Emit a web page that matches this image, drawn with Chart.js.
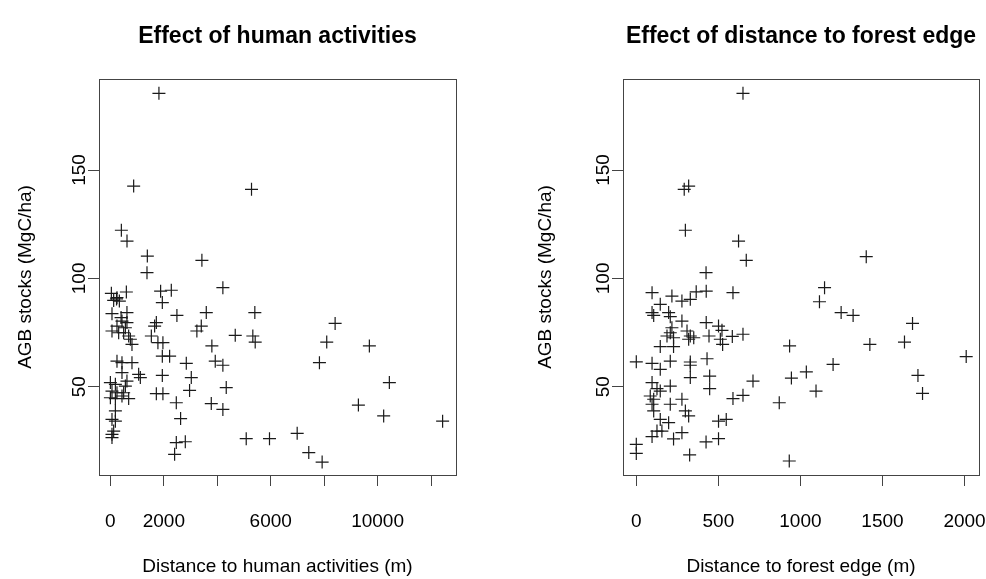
<!DOCTYPE html>
<html><head><meta charset="utf-8">
<script src="https://cdn.jsdelivr.net/npm/chart.js@4.4.1/dist/chart.umd.min.js"></script>
<style>
html,body{margin:0;padding:0;background:#fff;width:986px;height:579px;overflow:hidden;position:relative}
canvas{position:absolute;top:0}
#c1{left:0}
#c2{left:523px}
</style></head><body>
<canvas id="c1" width="556" height="579"></canvas>
<canvas id="c2" width="555" height="579"></canvas>
<script>
// ---- Data ----
const leftTitle = "Effect of human activities";
const leftXTitle = "Distance to human activities (m)";
const rightTitle = "Effect of distance to forest edge";
const rightXTitle = "Distance to forest edge (m)";
const yTitle = "AGB stocks (MgC/ha)";

const leftX = [1817, 871, 5282, 411, 622, 1383, 1370, 3425, 4210, 1880,
  2280, 1944, 2490, 3589, 5406, 1720, 1656, 3402, 3237, 1533,
  1779, 1966, 3798, 4673, 5331, 5420, 1944, 2217, 2841, 3925,
  4210, 3028, 1944, 4336, 2964, 1720, 1966, 2467, 3776, 4210,
  2628, 2467, 2804, 2404, 5084, 5955, 8411, 8097, 7824, 9693,
  10441, 9282, 10228, 12434, 6991, 7425, 7925,
  37, 598, 247, 123, 336, 230, 60, 620, 434, 247,
  561, 60, 310, 684, 497, 748, 808, 400, 620, 247,
  434, 808, 434, 1058, 1121, 0, 187, 620, 561, 60,
  247, 497, 434, 0, 187, 684, 187, 60, 187, 123, 60, 60];
const leftY = [185.4, 142.6, 141.1, 122.2, 117.2, 110.3, 102.6, 108.3, 95.7, 94.1,
  94.5, 88.8, 82.9, 84.2, 84.2, 79.6, 78, 78, 75.7, 73.4,
  70.3, 70.3, 68.8, 73.7, 73.4, 70.6, 64.1, 64.1, 60.8, 61.8,
  59.9, 54.2, 55.2, 49.6, 48.3, 46.8, 46.8, 42.6, 42.2, 39.5,
  35.3, 24.2, 24.6, 18.8, 26.0, 26.0, 79.2, 70.6, 61.1, 68.8,
  51.9, 41.5, 36.5, 34.1, 28.5, 19.6, 15.2,
  93.1, 93.7, 91.1, 89.8, 89.5, 90.5, 83.7, 84.2, 80.3, 78,
  77.2, 75.7, 74.9, 73.4, 74.9, 71.9, 69.5, 81.9, 79.6, 61.8,
  61.1, 61.1, 56.5, 55.7, 54.2, 51.9, 51.1, 52.6, 50.3, 48,
  47.2, 47.2, 45.7, 44.9, 44.5, 44.5, 38.8, 34.9, 34.1, 29.5, 28, 26.5];

const rightX = [650, 319, 292, 299, 623, 670, 425, 426, 365, 589,
  96, 217, 278, 329, 146, 96, 106, 197, 207, 278,
  217, 207, 187, 227, 309, 329, 319, 350, 426, 443,
  501, 522, 512, 526, 585, 650, 146, 227, 0, 96,
  146, 207, 329, 329, 431, 329, 447, 447, 96, 126,
  146, 207, 85, 106, 96, 207, 278, 299, 319, 106,
  146, 197, 126, 96, 156, 227, 278, 501, 548, 425,
  501, 0, 0, 325, 589, 650, 711, 871, 934, 945,
  932, 1401, 1147, 1116, 1248, 1321, 1683, 1634, 1423, 1199,
  1036, 1095, 2010, 1716, 1744];
const rightY = [185.4, 142.6, 141.1, 122.2, 117.2, 108.3, 102.6, 94.1, 93.8, 93.4,
  93.4, 91.8, 89.5, 90.3, 88, 84.2, 82.9, 84.2, 82.3, 80.3,
  77.2, 74.9, 73.4, 72.6, 75.7, 73.4, 71.9, 72.6, 79.6, 73.4,
  78, 76, 71.9, 69.5, 73.2, 74.2, 68.5, 68.5, 61.5, 60.8,
  58, 61.8, 61.4, 59.9, 62.9, 54.2, 54.9, 49.1, 51.9, 49.1,
  48, 50.3, 45.7, 44.2, 41.9, 41.9, 44.2, 38.8, 36.5, 38.8,
  34.9, 33.4, 29.5, 27, 29.5, 25.9, 28.8, 34.1, 34.9, 24.5,
  26, 23.4, 19.2, 18.5, 44.5, 46, 52.6, 42.6, 68.8, 54,
  15.7, 110, 95.7, 89.2, 84.2, 82.9, 79.2, 70.6, 69.5, 60.3,
  56.8, 48, 63.9, 55.2, 46.9];

const yTicks = [50, 100, 150];
const yTickLabels = ["50", "100", "150"];
const leftXTicks = [0, 2000, 4000, 6000, 8000, 10000, 12000];
const leftXTickLabels = ["0", "2000", "", "6000", "", "10000", ""];
const rightXTicks = [0, 500, 1000, 1500, 2000];
const rightXTickLabels = ["0", "500", "1000", "1500", "2000"];

// ---- Rendering ----
const FONT = '"Liberation Sans", Arial, sans-serif';
const INK = '#1a1a1a';

const boxPlugin = {
  id: 'rbox',
  afterDatasetsDraw(chart) {
    const {ctx, chartArea: a} = chart;
    ctx.save();
    ctx.strokeStyle = '#444';
    ctx.lineWidth = 1;
    ctx.strokeRect(Math.round(a.left) + 0.5, Math.round(a.top) + 0.5, Math.round(a.width), Math.round(a.height));
    ctx.restore();
  }
};

function panel(id, xs, ys, cfg) {
  const pts = xs.map((x, i) => ({x: x, y: ys[i]}));
  return new Chart(document.getElementById(id), {
    type: 'scatter',
    data: {datasets: [{
      data: pts,
      pointStyle: 'cross',
      pointRadius: 6.5,
      pointHoverRadius: 6.5,
      borderWidth: 1.2,
      borderColor: INK,
      backgroundColor: INK
    }]},
    plugins: [boxPlugin],
    options: {
      responsive: false,
      animation: false,
      devicePixelRatio: 1,
      events: [],
      layout: {padding: {left: 0, right: cfg.padRight, top: 0, bottom: 0}},
      plugins: {
        legend: {display: false},
        tooltip: {enabled: false},
        title: {
          display: true,
          fullSize: false,
          text: cfg.title,
          color: '#000',
          font: {family: FONT, size: 23, weight: 'bold'},
          padding: {top: 23, bottom: 28.4}
        }
      },
      scales: {
        x: {
          type: 'linear',
          min: cfg.xMin, max: cfg.xMax,
          afterFit(s) { s.height = 104; },
          afterBuildTicks(s) { s.ticks = cfg.xTicks.map(v => ({value: v})); },
          border: {display: false},
          grid: {drawOnChartArea: false, drawTicks: true, tickLength: 11, color: '#444', lineWidth: 1},
          ticks: {
            autoSkip: false, maxRotation: 0, minRotation: 0,
            padding: 24, color: '#000',
            font: {family: FONT, size: 19},
            callback: (v) => { const i = cfg.xTicks.indexOf(v); return i >= 0 ? cfg.xTickLabels[i] : ''; }
          },
          title: {
            display: true, text: cfg.xTitle, color: '#000',
            font: {family: FONT, size: 19},
            padding: {top: 0, bottom: 1}
          }
        },
        y: {
          type: 'linear',
          min: 9.25, max: 192,
          afterFit(s) { s.width = cfg.yWidth; },
          afterBuildTicks(s) { s.ticks = yTicks.map(v => ({value: v})); },
          border: {display: false},
          grid: {drawOnChartArea: false, drawTicks: true, tickLength: 11, color: '#444', lineWidth: 1},
          ticks: {
            autoSkip: false, minRotation: 90, maxRotation: 90,
            crossAlign: 'center',
            padding: -8, color: '#000',
            font: {family: FONT, size: 19},
            callback: (v) => { const i = yTicks.indexOf(v); return i >= 0 ? yTickLabels[i] : ''; }
          },
          title: {
            display: true, text: yTitle, color: '#000',
            font: {family: FONT, size: 19},
            padding: {top: cfg.yTitlePad, bottom: 0}
          }
        }
      }
    }
  });
}

panel('c1', leftX, leftY, {
  title: leftTitle, xTitle: leftXTitle,
  xMin: -426, xMax: 12935, xTicks: leftXTicks, xTickLabels: leftXTickLabels,
  yWidth: 99, padRight: 100, yTitlePad: 14
});
panel('c2', rightX, rightY, {
  title: rightTitle, xTitle: rightXTitle,
  xMin: -81, xMax: 2088, xTicks: rightXTicks, xTickLabels: rightXTickLabels,
  yWidth: 100, padRight: 99, yTitlePad: 11
});
</script>
</body></html>
